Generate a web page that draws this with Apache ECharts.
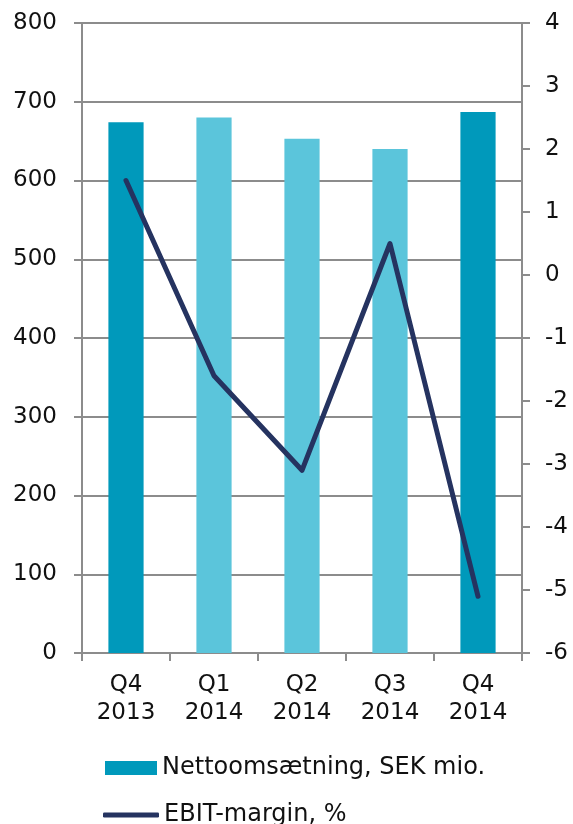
<!DOCTYPE html>
<html>
<head>
<meta charset="utf-8">
<script src="https://cdn.jsdelivr.net/npm/echarts@6/dist/echarts.min.js"></script>
<style>html,body{margin:0;padding:0;background:#fff}#c{width:573px;height:824px}</style>
</head>
<body>
<div id="c"></div>
<script>
const categories = ['Q4\n2013', 'Q1\n2014', 'Q2\n2014', 'Q3\n2014', 'Q4\n2014'];
const netSales = [674, 680, 653, 640, 687];
const ebitMargin = [1.5, -1.6, -3.1, 0.5, -5.1];
const leftTicks = [0, 800, 100];
const rightTicks = [-6, 4, 1];

const DARK = '#0099BB', LIGHT = '#5BC5DB', LINE = '#253360', GRAY = '#8c8c8c';
const FONT = 'DejaVu Sans';

const chart = echarts.init(document.getElementById('c'), null, {renderer: 'canvas'});
chart.setOption({
  animation: false,
  textStyle: {fontFamily: FONT},
  grid: {left: 82, right: 51, top: 23, bottom: 171},
  legend: [
    {data: [{name: 'Nettoomsætning, SEK mio.', icon: 'rect'}], left: 105, top: 756, padding: 0, itemWidth: 52, itemHeight: 14, itemGap: 6,
     textStyle: {fontSize: 24, color: '#111', fontFamily: FONT}},
    {data: [{name: 'EBIT-margin, %', icon: 'roundRect'}], left: 103, top: 803, padding: 0, itemWidth: 56, itemHeight: 5,
     textStyle: {fontSize: 24, color: '#111', fontFamily: FONT}}
  ],
  xAxis: {
    type: 'category', data: categories, boundaryGap: true,
    axisLine: {lineStyle: {color: GRAY, width: 2}},
    axisTick: {show: true, length: 8, lineStyle: {color: GRAY, width: 2}},
    axisLabel: {fontSize: 23, color: '#111', margin: 18, lineHeight: 28, fontFamily: FONT}
  },
  yAxis: [
    {type: 'value', min: leftTicks[0], max: leftTicks[1], interval: leftTicks[2],
     axisLine: {show: true, lineStyle: {color: GRAY, width: 2}},
     axisTick: {show: true, length: 8, lineStyle: {color: GRAY, width: 2}},
     splitLine: {show: true, lineStyle: {color: GRAY, width: 2}},
     axisLabel: {fontSize: 23, color: '#111', margin: 25, fontFamily: FONT}},
    {type: 'value', min: rightTicks[0], max: rightTicks[1], interval: rightTicks[2], position: 'right',
     axisLine: {show: true, lineStyle: {color: GRAY, width: 2}},
     axisTick: {show: true, length: 8, lineStyle: {color: GRAY, width: 2}},
     splitLine: {show: false},
     axisLabel: {fontSize: 23, color: '#111', margin: 23, fontFamily: FONT}}
  ],
  series: [
    {name: 'Nettoomsætning, SEK mio.', type: 'bar', yAxisIndex: 0, barWidth: '40%',
     itemStyle: {color: DARK},
     data: netSales.map((v, i) => ({value: v, itemStyle: {color: categories[i].startsWith('Q4') ? DARK : LIGHT}}))},
    {name: 'EBIT-margin, %', type: 'line', yAxisIndex: 1, data: ebitMargin, symbol: 'none',
     itemStyle: {color: LINE},
     lineStyle: {color: LINE, width: 5, cap: 'round', join: 'round'}}
  ]
});
</script>
</body>
</html>
